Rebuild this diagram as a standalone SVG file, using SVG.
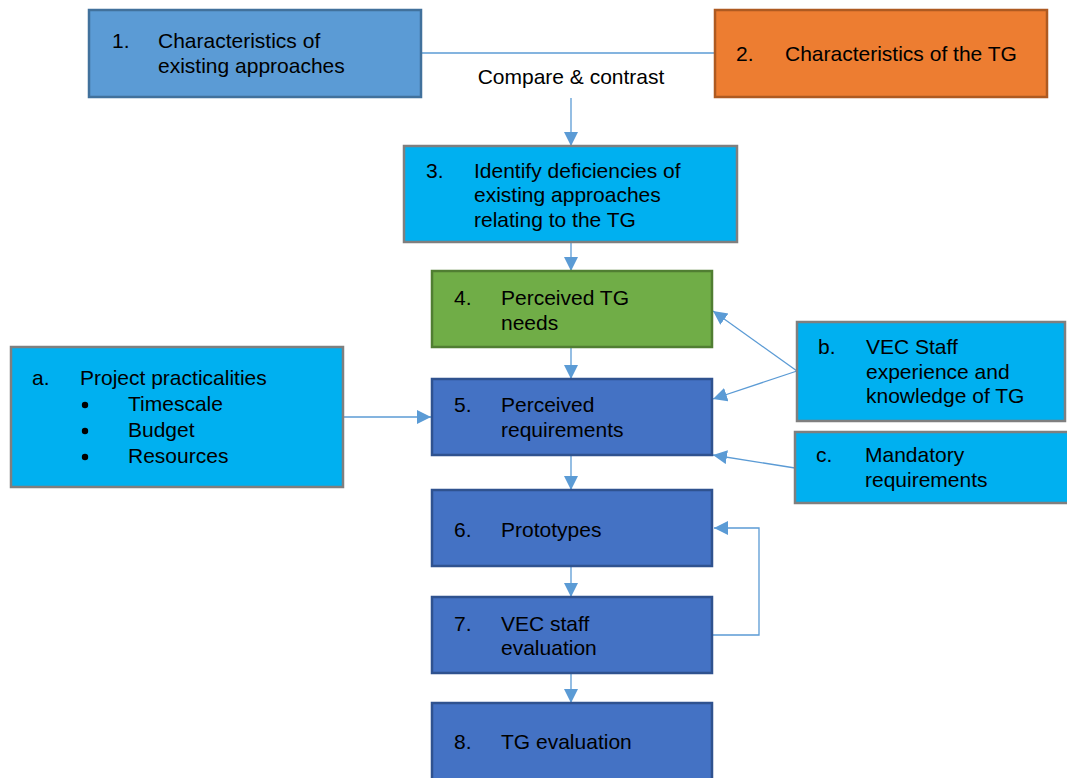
<svg xmlns="http://www.w3.org/2000/svg" width="1067" height="778" viewBox="0 0 1067 778">
  <defs>
    <marker id="arrow" markerUnits="userSpaceOnUse" markerWidth="15" markerHeight="15" refX="14" refY="7" orient="auto">
      <path d="M0,0 L14,7 L0,14 z" fill="#5b9bd5"/>
    </marker>
    <style>
      text { font-family: "Liberation Sans", Arial, sans-serif; font-size: 21px; fill: #000; }
      .box { stroke-width: 2.5; }
      .mid { fill: #5b9bd5; stroke: #41719c; }
      .orange { fill: #ed7d31; stroke: #ae5a21; }
      .cyan { fill: #00b0f0; stroke: #7f7f7f; }
      .green { fill: #70ad47; stroke: #507e32; }
      .blue { fill: #4472c4; stroke: #2f528f; }
      .conn { fill: none; stroke: #5b9bd5; stroke-width: 1.3; }
    </style>
  </defs>
  <rect width="1067" height="778" fill="#fff"/>

  <!-- connectors -->
  <g id="connectors">
    <line class="conn" x1="421" y1="53" x2="715" y2="53"/>
    <text x="571" y="84" text-anchor="middle">Compare &amp; contrast</text>
    <line class="conn" x1="571" y1="98" x2="571" y2="146" marker-end="url(#arrow)"/>
    <line class="conn" x1="571" y1="242" x2="571" y2="271" marker-end="url(#arrow)"/>
    <line class="conn" x1="571" y1="347" x2="571" y2="379" marker-end="url(#arrow)"/>
    <line class="conn" x1="571" y1="455" x2="571" y2="490" marker-end="url(#arrow)"/>
    <line class="conn" x1="571" y1="566" x2="571" y2="597" marker-end="url(#arrow)"/>
    <line class="conn" x1="571" y1="673" x2="571" y2="703" marker-end="url(#arrow)"/>
    <polyline class="conn" points="712,635 759,635 759,528 714,528" marker-end="url(#arrow)"/>
    <line class="conn" x1="343" y1="417" x2="431" y2="417" marker-end="url(#arrow)"/>
    <line class="conn" x1="797" y1="371" x2="713" y2="311" marker-end="url(#arrow)"/>
    <line class="conn" x1="797" y1="371" x2="713" y2="399" marker-end="url(#arrow)"/>
    <line class="conn" x1="795" y1="468" x2="713" y2="455" marker-end="url(#arrow)"/>
  </g>

  <!-- 1. Characteristics of existing approaches -->
  <g id="node1">
    <rect class="box mid" x="89" y="10" width="332" height="87"/>
    <text x="112" y="48">1.</text>
    <text x="158" y="48">Characteristics of</text>
    <text x="158" y="73">existing approaches</text>
  </g>

  <!-- 2. Characteristics of the TG -->
  <g id="node2">
    <rect class="box orange" x="715" y="10" width="332" height="87"/>
    <text x="736" y="61">2.</text>
    <text x="785" y="61">Characteristics of the TG</text>
  </g>

  <!-- 3. Identify deficiencies -->
  <g id="node3">
    <rect class="box cyan" x="404" y="146" width="333" height="96"/>
    <text x="426" y="178">3.</text>
    <text x="474" y="178">Identify deficiencies of</text>
    <text x="474" y="202">existing approaches</text>
    <text x="474" y="227">relating to the TG</text>
  </g>

  <!-- 4. Perceived TG needs -->
  <g id="node4">
    <rect class="box green" x="432" y="271" width="280" height="76"/>
    <text x="454" y="305">4.</text>
    <text x="501" y="305">Perceived TG</text>
    <text x="501" y="330">needs</text>
  </g>

  <!-- 5. Perceived requirements -->
  <g id="node5">
    <rect class="box blue" x="432" y="379" width="280" height="76"/>
    <text x="454" y="412">5.</text>
    <text x="501" y="412">Perceived</text>
    <text x="501" y="437">requirements</text>
  </g>

  <!-- 6. Prototypes -->
  <g id="node6">
    <rect class="box blue" x="432" y="490" width="280" height="76"/>
    <text x="454" y="537">6.</text>
    <text x="501" y="537">Prototypes</text>
  </g>

  <!-- 7. VEC staff evaluation -->
  <g id="node7">
    <rect class="box blue" x="432" y="597" width="280" height="76"/>
    <text x="454" y="631">7.</text>
    <text x="501" y="631">VEC staff</text>
    <text x="501" y="655">evaluation</text>
  </g>

  <!-- 8. TG evaluation -->
  <g id="node8">
    <rect class="box blue" x="432" y="703" width="280" height="90"/>
    <text x="454" y="749">8.</text>
    <text x="501" y="749">TG evaluation</text>
  </g>

  <!-- a. Project practicalities -->
  <g id="nodeA">
    <rect class="box cyan" x="11" y="347" width="332" height="140"/>
    <text x="32" y="385">a.</text>
    <text x="80" y="385">Project practicalities</text>
    <circle cx="85" cy="405" r="3.2" fill="#000"/>
    <text x="128" y="411">Timescale</text>
    <circle cx="85" cy="431" r="3.2" fill="#000"/>
    <text x="128" y="437">Budget</text>
    <circle cx="85" cy="457" r="3.2" fill="#000"/>
    <text x="128" y="463">Resources</text>
  </g>

  <!-- b. VEC Staff experience -->
  <g id="nodeB">
    <rect class="box cyan" x="797" y="322" width="268" height="99"/>
    <text x="818" y="354">b.</text>
    <text x="866" y="354">VEC Staff</text>
    <text x="866" y="379">experience and</text>
    <text x="866" y="403">knowledge of TG</text>
  </g>

  <!-- c. Mandatory requirements -->
  <g id="nodeC">
    <rect class="box cyan" x="795" y="432" width="280" height="71"/>
    <text x="816" y="462">c.</text>
    <text x="865" y="462">Mandatory</text>
    <text x="865" y="487">requirements</text>
  </g>
</svg>
